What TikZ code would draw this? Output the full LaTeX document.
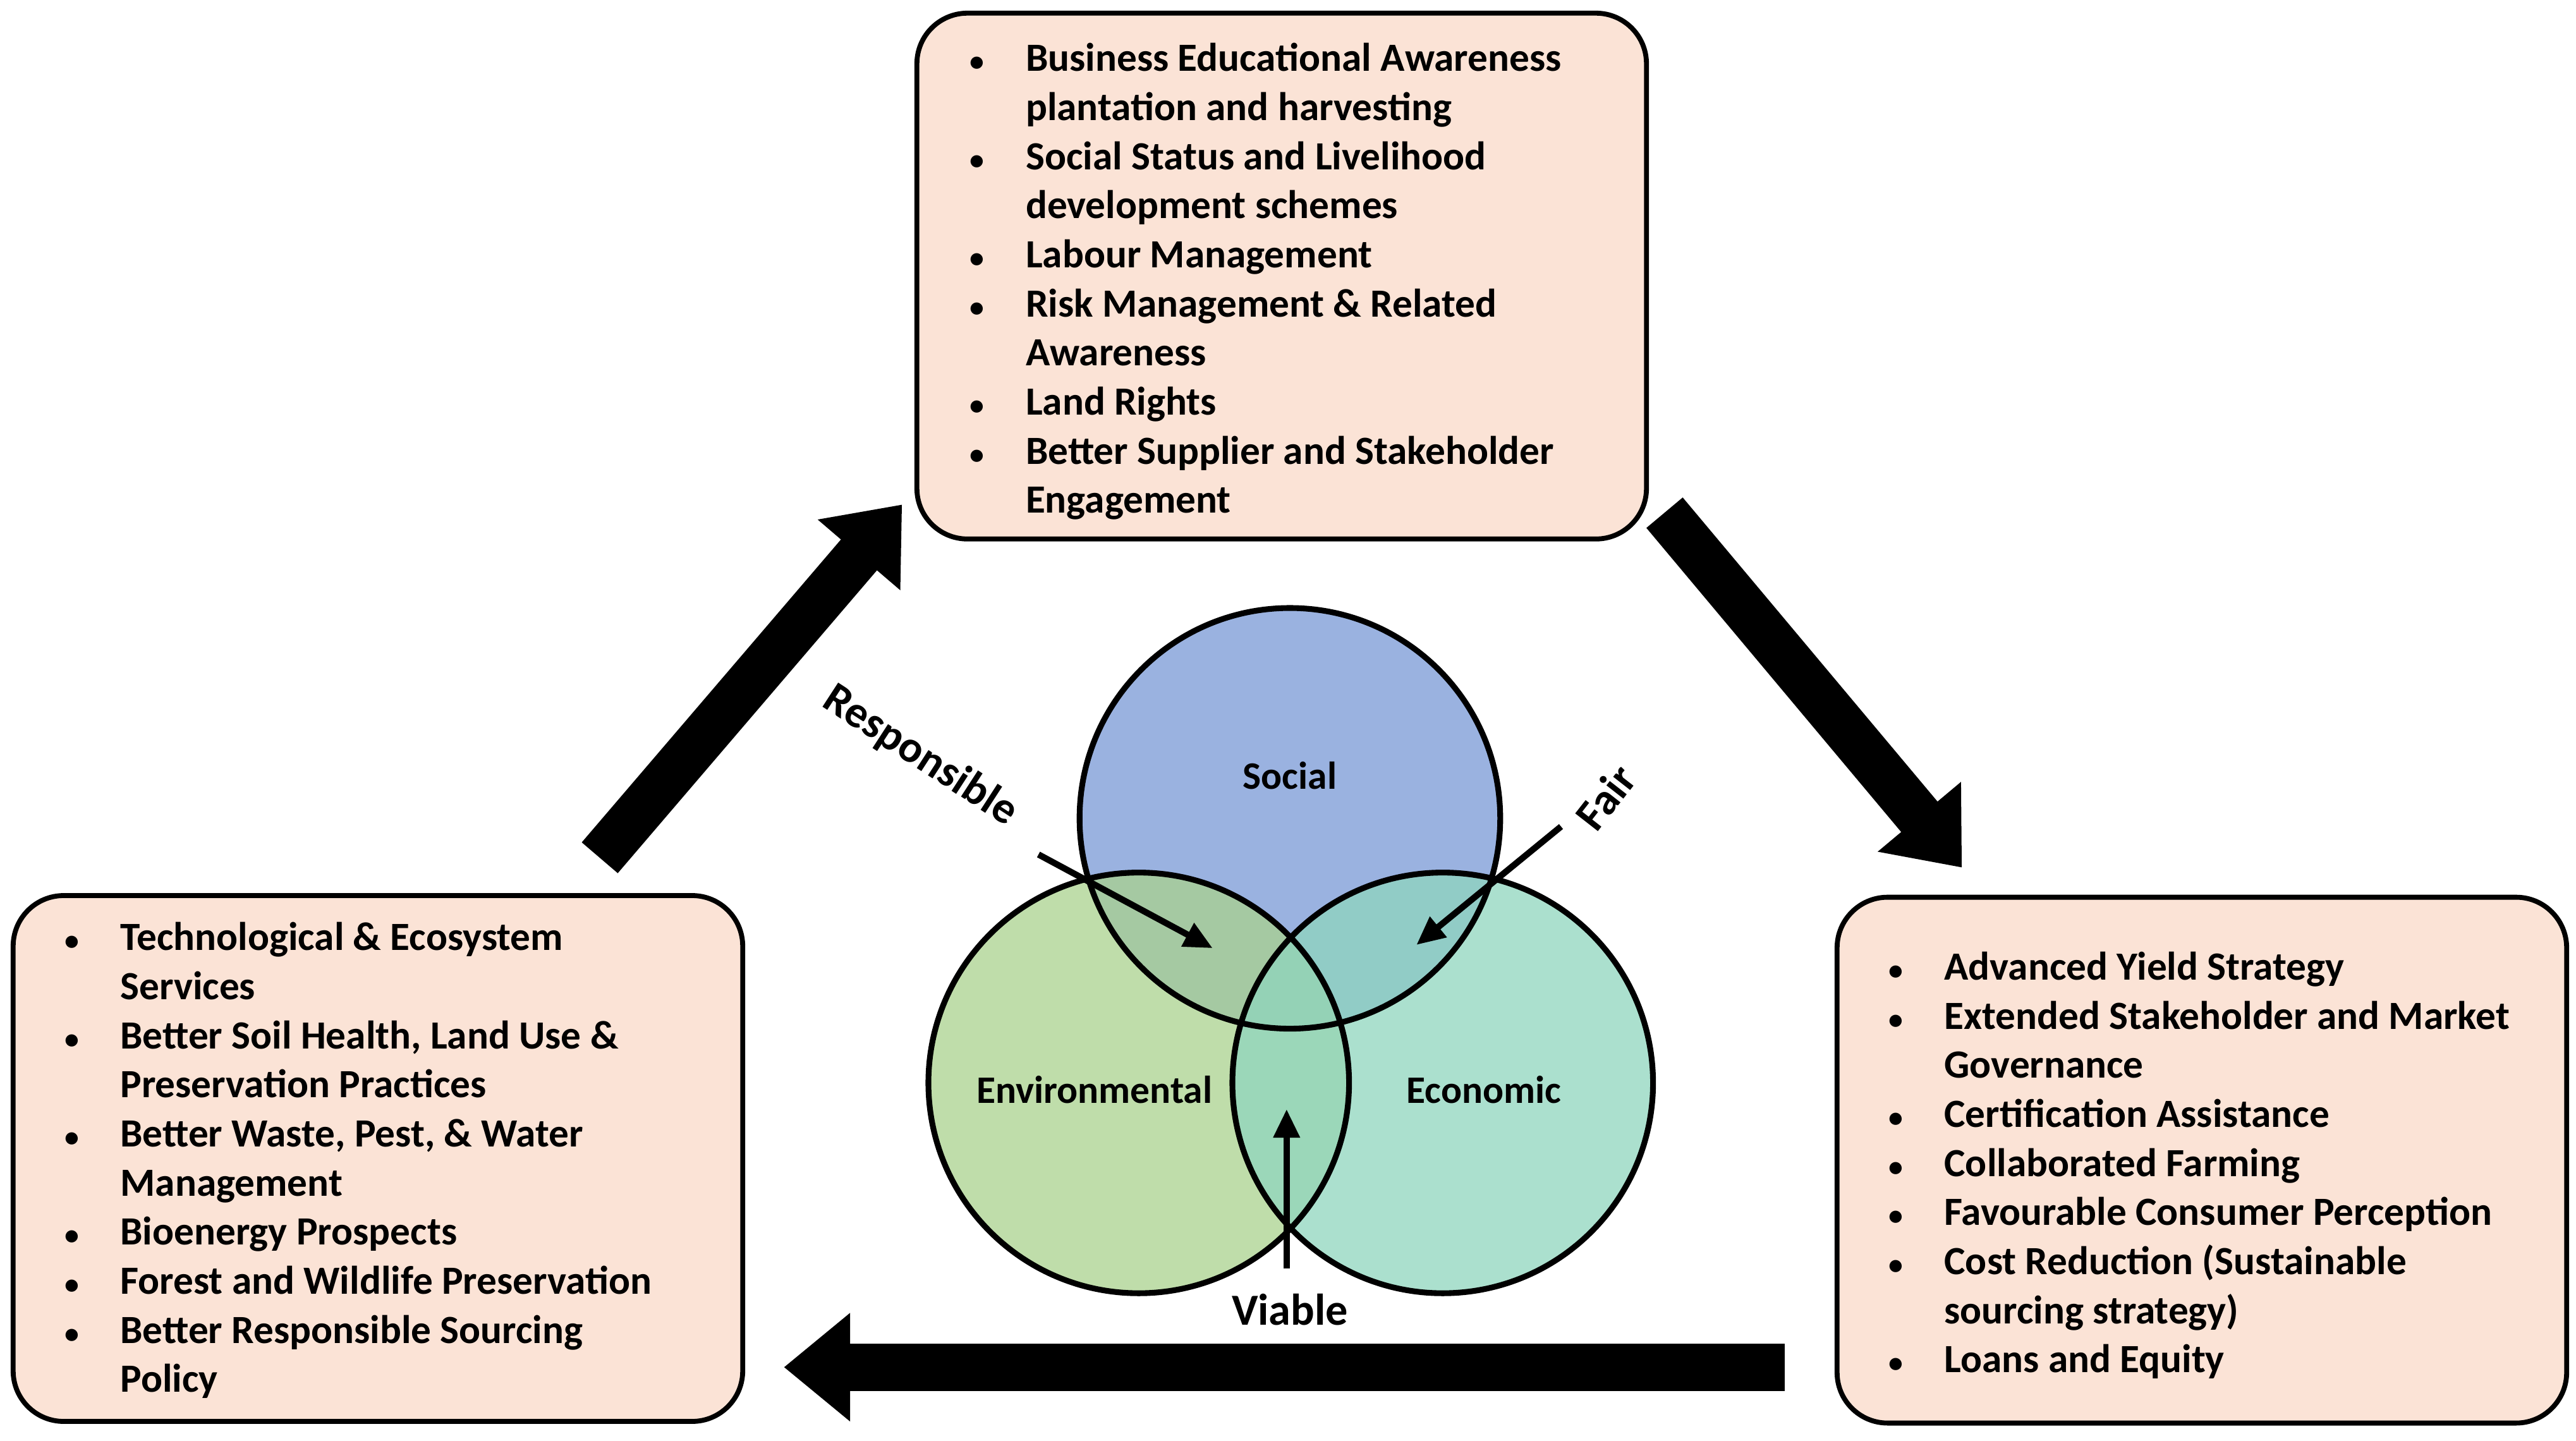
\documentclass[tikz,border=0pt]{standalone}
\usepackage{fontspec}
\setmainfont{Carlito}
\usetikzlibrary{arrows.meta}
\definecolor{peach}{HTML}{FBE3D6}
\definecolor{socialc}{HTML}{9AB2E0}
\definecolor{envc}{HTML}{A9D18E}
\definecolor{ecoc}{HTML}{8FD6BE}
\newlength{\unitlen}\setlength{\unitlen}{0.026cm}
\newcommand{\bl}{\makebox[33\unitlen][l]{\hspace*{-1\unitlen}\fontsize{13}{13}\selectfont\textbullet}}
\newcommand{\ind}{\hspace*{33\unitlen}}
\tikzset{
  box/.style={draw=black,line width=3*0.026cm,fill=peach,rounded corners=0.8cm},
  txt/.style={anchor=north west,align=left,inner sep=0pt,font=\fontsize{18}{22.1}\selectfont\bfseries},
  lbl/.style={font=\fontsize{17.5}{19}\selectfont\bfseries},
  big/.style={line width=0.75cm,-{Triangle[length=1.05cm,width=1.65cm]}},
  small/.style={line width=0.1cm,-{Triangle[length=0.45cm,width=0.4cm]}}
}
\begin{document}
\begin{tikzpicture}[x=0.026cm,y=-0.026cm]
\useasboundingbox (0,0) rectangle (1567.7,876.9);
% boxes
\draw[box] (558,8) rectangle (1002,328);
\draw[box] (8,545) rectangle (452,865);
\draw[box] (1118,546) rectangle (1562,866);
\node[txt] (ttop) at (591,26) {\bl Business Educational Awareness\\\ind plantation and harvesting\\\bl Social Status and Livelihood\\\ind development schemes\\\bl Labour Management\\\bl Risk Management \& Related\\\ind Awareness\\\bl Land Rights\\\bl Better Supplier and Stakeholder\\\ind Engagement};
\node[txt] (tleft) at (40,561) {\bl Technological \& Ecosystem\\\ind Services\\\bl Better Soil Health, Land Use \&\\\ind Preservation Practices\\\bl Better Waste, Pest, \& Water\\\ind Management\\\bl Bioenergy Prospects\\\bl Forest and Wildlife Preservation\\\bl Better Responsible Sourcing\\\ind Policy};
\node[txt] (tright) at (1150,579) {\bl Advanced Yield Strategy\\\bl Extended Stakeholder and Market\\\ind Governance\\\bl Certification Assistance\\\bl Collaborated Farming\\\bl Favourable Consumer Perception\\\bl Cost Reduction (Sustainable\\\ind sourcing strategy)\\\bl Loans and Equity};
% circles
\fill[socialc] (785,498) circle (128);
\fill[envc,fill opacity=0.75] (693,659) circle (128);
\fill[ecoc,fill opacity=0.75] (878,659) circle (128);
\draw[line width=3.5*0.026cm] (785,498) circle (128) (693,659) circle (128) (878,659) circle (128);
\node[lbl] (soc) at (785,472) {Social};
\node[lbl] (env) at (666,663) {Environmental};
\node[lbl] (eco) at (903,663) {Economic};
\node[lbl,font=\fontsize{20}{22}\selectfont\bfseries] (via) at (785,797) {Viable};
\node[lbl,font=\fontsize{20}{22}\selectfont\bfseries,rotate=-33] (resp) at (560,460) {Responsible};
\node[lbl,font=\fontsize{20}{22}\selectfont\bfseries,rotate=52] (fair) at (977,485) {Fair};
\coordinate (r1) at (632,520); \coordinate (r2) at (738,577);
\coordinate (f1) at (950,503); \coordinate (f2) at (862,575);
\coordinate (v1) at (783,772); \coordinate (v2) at (783,675);
\draw[small] (r1) -- (r2);
\draw[small] (f1) -- (f2);
\draw[small] (v1) -- (v2);
% big arrows
\coordinate (a1) at (365,522); \coordinate (a2) at (549,307);
\coordinate (b1) at (1013,312); \coordinate (b2) at (1194,528);
\coordinate (c1) at (1086,832); \coordinate (c2) at (477,832);
\draw[big] (a1) -- (a2);
\draw[big] (b1) -- (b2);
\draw[big] (c1) -- (c2);
\end{tikzpicture}
\end{document}
